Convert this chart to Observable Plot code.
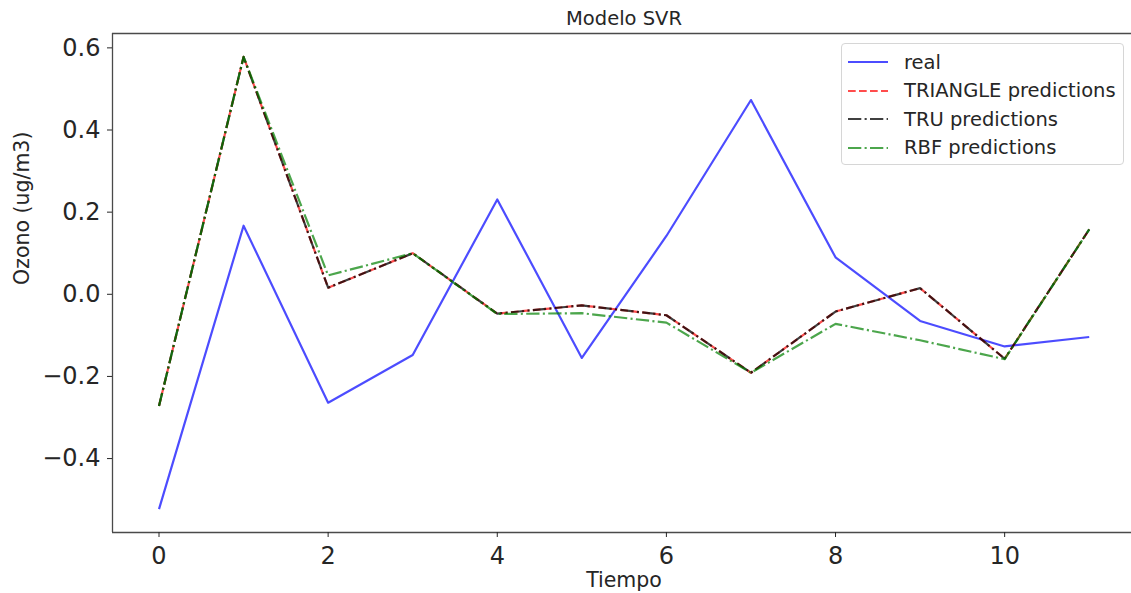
<!DOCTYPE html>
<html>
<head>
<meta charset="utf-8">
<script src="https://cdn.jsdelivr.net/npm/d3@7"></script>
<script src="https://cdn.jsdelivr.net/npm/@observablehq/plot@0.6"></script>
<style>
  html, body { margin: 0; padding: 0; background: #fff; overflow: hidden; }
  #wrap { position: relative; width: 1131px; height: 593px; font-family: "DejaVu Sans", sans-serif; }
  #legend {
    position: absolute; left: 841px; top: 43px; width: 283px; height: 122px;
    box-sizing: border-box; border: 1px solid #d6d6d6; border-radius: 4px;
    background: rgba(255,255,255,0.8);
  }
  .item { position: absolute; left: 6px; height: 28px; display: flex; align-items: center; }
  .item svg { width: 40px; height: 10px; margin-right: 16px; }
  .item span { font-size: 19.5px; color: #262626; white-space: nowrap; }
</style>
</head>
<body>
<div id="wrap"><div id="legend"></div></div>
<script>
// Time steps and the four series (ozone, ug/m3)
const tiempo = [0, 1, 2, 3, 4, 5, 6, 7, 8, 9, 10, 11];
const real = [-0.523, 0.167, -0.264, -0.148, 0.231, -0.155, 0.142, 0.473, 0.090, -0.065, -0.127, -0.104];
const triangle = [-0.272, 0.578, 0.016, 0.100, -0.047, -0.027, -0.051, -0.191, -0.042, 0.015, -0.157, 0.158];
const tru = [-0.272, 0.578, 0.016, 0.100, -0.047, -0.027, -0.051, -0.191, -0.042, 0.015, -0.157, 0.158];
const rbf = [-0.272, 0.578, 0.046, 0.100, -0.048, -0.046, -0.069, -0.191, -0.072, -0.112, -0.158, 0.158];

const xTicks = [0, 2, 4, 6, 8, 10];
const yTicks = [-0.4, -0.2, 0.0, 0.2, 0.4, 0.6];
const xDomain = [-0.55, 11.5];
const yDomain = [-0.58, 0.635];

const seriesNames = ["real", "TRIANGLE predictions", "TRU predictions", "RBF predictions"];

const rows = tiempo.map((t, i) => ({t, real: real[i], triangle: triangle[i], tru: tru[i], rbf: rbf[i]}));

const styles = [
  {key: "real", stroke: "blue", opacity: 0.7, dash: null},
  {key: "triangle", stroke: "red", opacity: 0.7, dash: "7.7,3.3"},
  {key: "tru", stroke: "black", opacity: 0.75, dash: "13.3,3.3,2.1,3.3"},
  {key: "rbf", stroke: "green", opacity: 0.7, dash: "13.3,3.3,2.1,3.3"}
];

const lineMarks = styles.map(s => Plot.line(rows, {
  x: "t", y: s.key, stroke: s.stroke, strokeOpacity: s.opacity, strokeWidth: 2.2,
  strokeDasharray: s.dash, strokeLinecap: "butt", strokeLinejoin: "round"
}));

const chart = Plot.plot({
  width: 1131,
  height: 593,
  marginLeft: 112,
  marginRight: 0,
  marginTop: 33,
  marginBottom: 61,
  style: {fontFamily: "DejaVu Sans", fontSize: "24px", color: "#262626", background: "white", overflow: "visible"},
  x: {domain: xDomain, label: null},
  y: {domain: yDomain, label: null},
  marks: [
    Plot.ruleX([xDomain[0]], {stroke: "#4a4a4a", strokeWidth: 1.3}),
    Plot.ruleY(yDomain, {stroke: "#4a4a4a", strokeWidth: 1.3}),
    Plot.axisX({ticks: xTicks, tickSize: 5, tickPadding: 9, label: null, fontSize: 24}),
    Plot.axisY({ticks: yTicks, tickSize: 5, tickPadding: 7, label: null, fontSize: 24, tickFormat: d3.format(".1f")}),
    ...lineMarks,
    Plot.text(["Modelo SVR"], {frameAnchor: "top", dx: 2, dy: -22, fontSize: 19.5, fill: "#262626"}),
    Plot.text(["Tiempo"], {frameAnchor: "bottom", dx: 2, dy: 54, fontSize: 20.5, fill: "#262626"}),
    Plot.text(["Ozono (ug/m3)"], {frameAnchor: "left", dx: -90, dy: 2, rotate: -90, fontSize: 20.5, fill: "#262626"})
  ]
});

document.getElementById("wrap").prepend(chart);

// Legend entries
const legend = document.getElementById("legend");
styles.forEach((s, i) => {
  const item = document.createElement("div");
  item.className = "item";
  item.style.top = (4 + i * 28.6) + "px";
  item.innerHTML =
    `<svg viewBox="0 0 40 10"><line x1="0" y1="5" x2="40" y2="5" stroke="${s.stroke}" stroke-opacity="${s.opacity}" stroke-width="2.2"` +
    (s.dash ? ` stroke-dasharray="${s.dash}"` : "") + `/></svg><span>${seriesNames[i]}</span>`;
  legend.appendChild(item);
});
</script>
</body>
</html>
